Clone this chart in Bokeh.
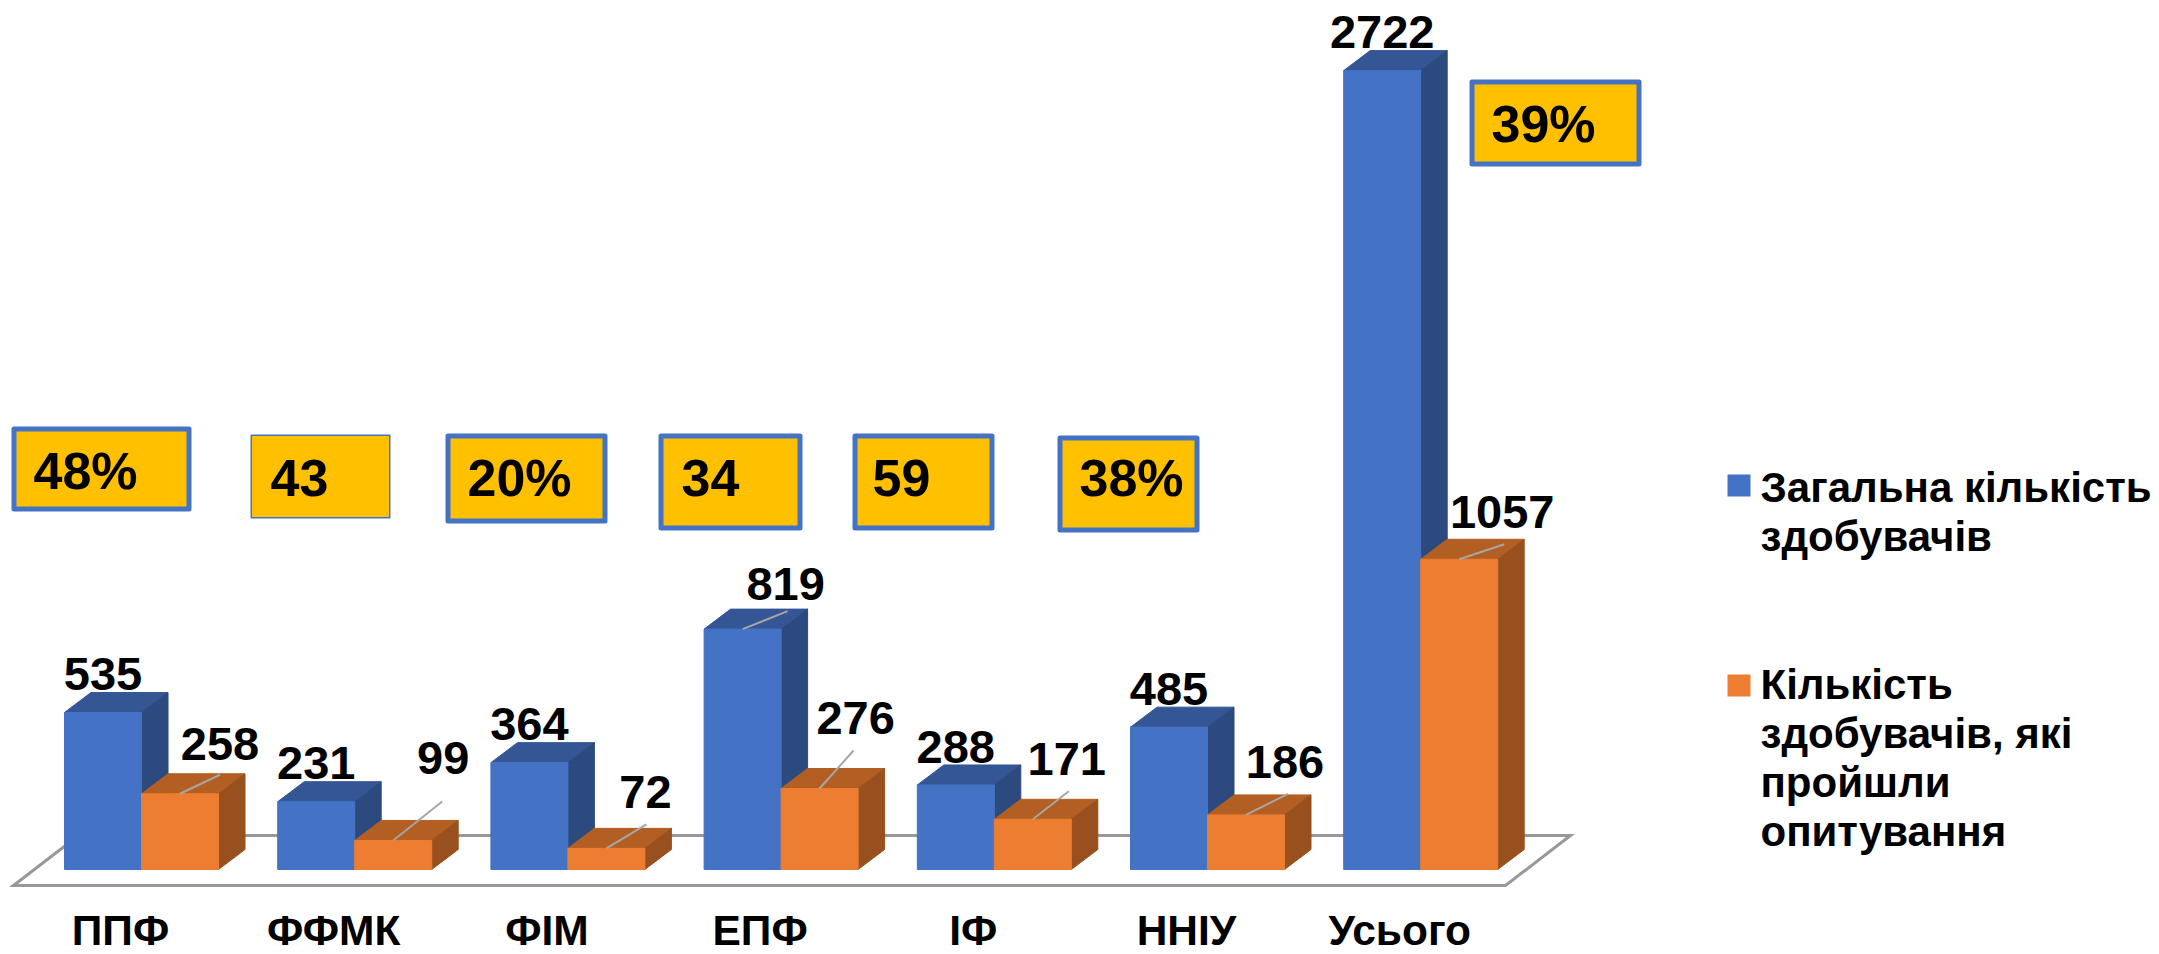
from bokeh.plotting import figure
from bokeh.models import Range1d, FixedTicker, ColumnDataSource
from bokeh.core.properties import value
from bokeh.embed import file_html
from bokeh.resources import INLINE

# ---- data
categories = ["ППФ", "ФФМК", "ФІМ", "ЕПФ", "ІФ", "ННІУ", "Усього"]
total = [535, 231, 364, 819, 288, 485, 2722]
surveyed = [258, 99, 72, 276, 171, 186, 1057]
share_labels = ["48%", "43", "20%", "34", "59", "38%", "39%"]
legend_total = ["Загальна кількість", "здобувачів"]
legend_surveyed = ["Кількість", "здобувачів, які", "пройшли", "опитування"]

# ---- styling and layout (pixels)
W, H = 2159, 954
FRAME_H = 892
PX_GROUP = 213.2     # px per category
PX_VALUE = 0.2935    # px per unit of value
X0, Y0 = 141, 869    # px of first category centre and of the value 0
BAR_PX = 77
DEPTH_X, DEPTH_Y = 26.5, 20
FONT = value("Liberation Sans")
BLUE, BLUE_TOP, BLUE_SIDE = "#4472C4", "#345694", "#2C4A7E"
ORANGE, ORANGE_TOP, ORANGE_SIDE = "#ED7D31", "#B35E22", "#98511E"
GRAY = "#989898"
BASE_FIX = 0.39      # rendered alphabetic baseline correction, in em

def X(px): return (px - X0) / PX_GROUP
def Y(py): return (Y0 - py) / PX_VALUE

p = figure(width=W, height=H, frame_width=W, frame_height=FRAME_H,
           x_range=Range1d(X(0), X(W)), y_range=Range1d(Y(FRAME_H), Y(0)),
           output_backend="svg", toolbar_location=None, min_border=0,
           outline_line_color=None, background_fill_color="white")
p.grid.visible = False
p.yaxis.visible = False

LABEL_SHIFT = -21 / PX_GROUP
idx = list(range(len(categories)))
ticks = [i + LABEL_SHIFT for i in idx]
ax = p.xaxis[0]
ax.ticker = FixedTicker(ticks=ticks)
ax.major_label_overrides = {t: c for t, c in zip(ticks, categories)}
ax.axis_line_color = None
ax.major_tick_line_color = None
ax.minor_tick_line_color = None
ax.major_tick_out = 0
ax.major_tick_in = 0
ax.major_label_standoff = 14
ax.major_label_text_font = "Liberation Sans"
ax.major_label_text_font_style = "bold"
ax.major_label_text_font_size = "42.5px"
ax.major_label_text_color = "black"

# floor
p.patch([X(13), X(78), X(1570), X(1505), X(13)], [Y(885), Y(835), Y(835), Y(885), Y(885)],
        fill_color=None, line_color=GRAY, line_width=3, line_join="miter")

bw = BAR_PX / PX_GROUP
dx, dy = DEPTH_X / PX_GROUP, DEPTH_Y / PX_VALUE

def bars(values, left_off, front, top, side):
    xs_side, ys_side, xs_top, ys_top = [], [], [], []
    for i, v in enumerate(values):
        l = i + left_off
        r = l + bw
        xs_side.append([r, r + dx, r + dx, r])
        ys_side.append([0, dy, v + dy, v])
        xs_top.append([l, r, r + dx, l + dx])
        ys_top.append([v, v, v + dy, v + dy])
    p.patches(xs_top, ys_top, fill_color=top, line_color=top, line_width=1)
    p.patches(xs_side, ys_side, fill_color=side, line_color=side, line_width=1)
    p.vbar(x=[i + left_off + bw / 2 for i in idx], top=values, bottom=0, width=bw,
           fill_color=front, line_color=front, line_width=1)

bars(total, -bw, BLUE, BLUE_TOP, BLUE_SIDE)
bars(surveyed, 0, ORANGE, ORANGE_TOP, ORANGE_SIDE)

# leader lines: offsets (px) from bar top centre
lead_total = {3: (45, -18)}
lead_surveyed = {0: (40, -19), 1: (49, -39), 2: (40, -24), 3: (34, -38),
                 4: (36, -28), 5: (42, -21), 6: (45, -15)}
sx0, sy0, sx1, sy1 = [], [], [], []
for i, (ox, oy) in lead_total.items():
    sx0.append(i - bw / 2); sy0.append(total[i])
    sx1.append(i - bw / 2 + ox / PX_GROUP); sy1.append(total[i] - oy / PX_VALUE)
for i, (ox, oy) in lead_surveyed.items():
    sx0.append(i + bw / 2); sy0.append(surveyed[i])
    sx1.append(i + bw / 2 + ox / PX_GROUP); sy1.append(surveyed[i] - oy / PX_VALUE)
p.segment(sx0, sy0, sx1, sy1, line_color="#A6A6A6", line_width=2)

# value labels with pixel offsets from bar top centre
LABEL_SIZE = 47
off_total = [(0, -20), (0, -20), (0, -20), (43, -27), (0, -20), (0, -20), (0, -20)]
off_surveyed = [(40, -31), (50, -64), (39, -38), (36, -52), (34, -42), (39, -35), (43, -29)]
src = ColumnDataSource(dict(
    x=[i - bw / 2 for i in idx] + [i + bw / 2 for i in idx],
    y=total + surveyed,
    t=[str(v) for v in total + surveyed],
    xo=[o[0] for o in off_total + off_surveyed],
    yo=[o[1] - BASE_FIX * LABEL_SIZE for o in off_total + off_surveyed],
))
p.text(x="x", y="y", text="t", x_offset="xo", y_offset="yo", source=src,
       text_font=FONT, text_font_style="bold", text_font_size=f"{LABEL_SIZE}px",
       text_color="black", text_align="center", text_baseline="alphabetic")

# share plaques
boxes = [(11, 191, 426, 511, 5), (250, 390, 434, 518, 1.5), (445, 607, 433, 523, 5),
         (658, 802, 433, 530, 5), (852, 994, 433, 530, 5), (1057, 1199, 435, 532, 5),
         (1469, 1641, 79, 166, 5)]
text_pos = [(33, 491), (270, 498), (467, 498), (681, 498), (872, 498), (1079, 498), (1491, 144)]
SHARE_SIZE = 52
for (l, r, t, b, lw), (tx, ty), s in zip(boxes, text_pos, share_labels):
    h = lw / 2
    p.quad(left=X(l + h), right=X(r - h), top=Y(t + h), bottom=Y(b - h),
           fill_color="#FFC000", line_color=BLUE, line_width=lw, line_join="round")
    p.text(x=[X(tx)], y=[Y(ty - BASE_FIX * SHARE_SIZE)], text=[s], text_font=FONT,
           text_font_style="bold", text_font_size=f"{SHARE_SIZE}px", text_color="black",
           text_align="left", text_baseline="alphabetic")

# legend
LEG_SIZE = 42
def legend(lines, color, sq_top, first_base):
    p.quad(left=X(1727), right=X(1750), top=Y(sq_top), bottom=Y(sq_top + 22),
           fill_color=color, line_color=None)
    ys = [Y(first_base + 49 * k - BASE_FIX * LEG_SIZE) for k in range(len(lines))]
    p.text(x=[X(1760)] * len(lines), y=ys, text=lines, text_font=FONT, text_font_style="bold",
           text_font_size=f"{LEG_SIZE}px", text_color="black", text_align="left",
           text_baseline="alphabetic")

legend(legend_total, BLUE, 474, 503)
legend(legend_surveyed, ORANGE, 674, 700)

open("out.html", "w").write(file_html(p, INLINE))
